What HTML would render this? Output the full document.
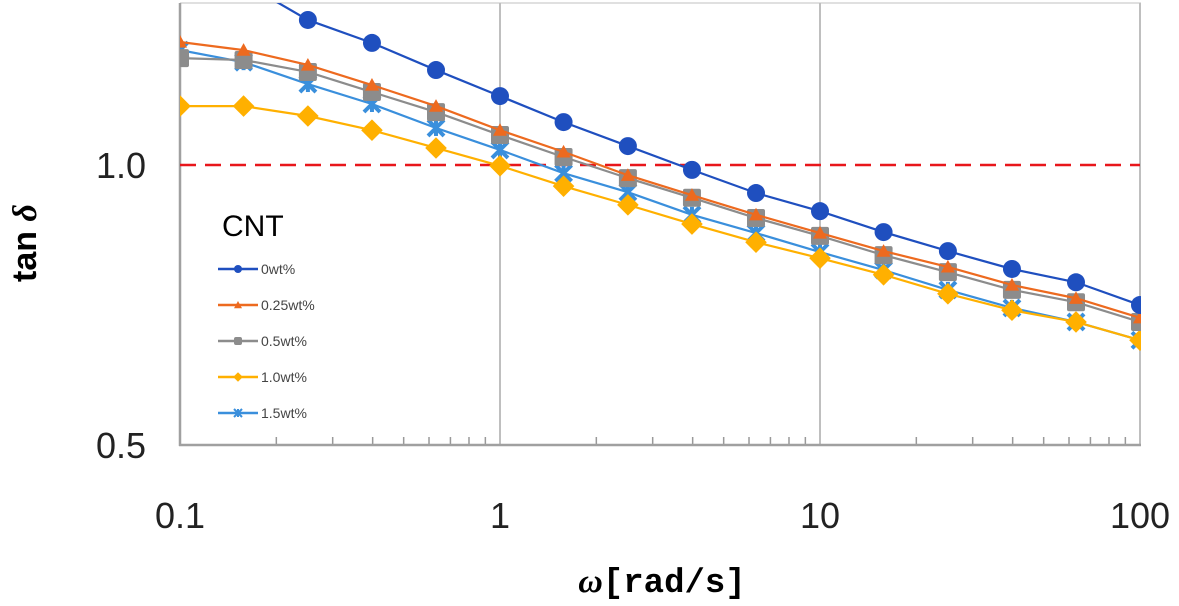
<!DOCTYPE html>
<html><head><meta charset="utf-8"><style>
body{margin:0;background:#fff;}
svg{display:block;font-family:"Liberation Sans",sans-serif;}
</style></head><body>
<svg id="chart" width="1179" height="606">
<defs><clipPath id="pc"><rect x="180" y="3" width="961" height="443"/></clipPath></defs>
<g id="grid"></g>
<g id="series" clip-path="url(#pc)"></g>
<g id="ticks"></g>
<text x="222" y="236" font-size="30">CNT</text>
<g id="legend"></g>
<text x="662" y="592" text-anchor="middle" font-size="34" font-weight="bold" font-family="Liberation Mono, monospace"><tspan font-style="italic" font-family="Liberation Serif, serif">ω</tspan>[rad/s]</text>
<text transform="translate(36,243) rotate(-90)" text-anchor="middle" font-size="34" font-weight="bold">tan <tspan font-style="italic" font-family="Liberation Serif, serif">δ</tspan></text>
</svg>
<script>
const omega=[0.1,0.158,0.251,0.398,0.631,1,1.58,2.51,3.98,6.31,10,15.8,25.1,39.8,63.1,100];
const s0=[1.68,1.57,1.432,1.353,1.265,1.186,1.112,1.048,0.988,0.933,0.892,0.847,0.808,0.773,0.748,0.707];
const s025=[1.356,1.329,1.281,1.219,1.157,1.090,1.033,0.975,0.928,0.884,0.845,0.808,0.777,0.743,0.719,0.685];
const s05=[1.303,1.297,1.259,1.198,1.140,1.077,1.020,0.968,0.922,0.877,0.839,0.800,0.767,0.734,0.712,0.678];
const s10=[1.157,1.157,1.129,1.090,1.043,0.998,0.949,0.906,0.864,0.826,0.794,0.762,0.727,0.698,0.678,0.648];
const s15=[1.329,1.290,1.222,1.163,1.096,1.038,0.980,0.935,0.884,0.845,0.806,0.771,0.734,0.702,0.678,0.648];
const seriesNames=["0wt%","0.25wt%","0.5wt%","1.0wt%","1.5wt%"];
const xTicks=[0.1,1,10,100];
const xTickLabels=["0.1","1","10","100"];
const yTicks=[0.5,1.0];
const yTickLabels=["0.5","1.0"];
const refLine=1.0;

const NS="http://www.w3.org/2000/svg";
const X=v=>180+320*Math.log10(v/0.1);
const Y=v=>165-930*Math.log10(v);
function mk(t,a,p){const e=document.createElementNS(NS,t);for(const k in a)e.setAttribute(k,a[k]);p.appendChild(e);return e;}
const grid=document.getElementById('grid'),ser=document.getElementById('series'),tk=document.getElementById('ticks'),leg=document.getElementById('legend');
let e=mk('line',{x1:180,x2:1141,y1:3,y2:3,stroke:'#e0e0e0','stroke-width':2},grid);

xTicks.forEach((v,i)=>{
 if(i>0){const g=mk('line',{x1:X(v),x2:X(v),y1:3,y2:445,stroke:'#bfbfbf','stroke-width':2},grid);
 }
 const t=mk('text',{x:X(v),y:528,'text-anchor':'middle','font-size':36,fill:'#222'},tk);t.textContent=xTickLabels[i];
 
});
for(let d=0;d<3;d++)for(let m=2;m<=9;m++){const xv=X(0.1*Math.pow(10,d)*m);
 const l=mk('line',{x1:xv,x2:xv,y1:437,y2:445,stroke:'#999','stroke-width':1.5},grid);
 }
e=mk('line',{x1:180,x2:180,y1:3,y2:446,stroke:'#a0a0a0','stroke-width':2.5},grid);

e=mk('line',{x1:179,x2:1141,y1:445,y2:445,stroke:'#a0a0a0','stroke-width':2.5},grid);

yTicks.forEach((v,i)=>{const t=mk('text',{x:146,y:Y(v)+13,'text-anchor':'end','font-size':36,fill:'#222'},tk);t.textContent=yTickLabels[i];
 });
e=mk('line',{x1:180,x2:1140,y1:Y(refLine),y2:Y(refLine),stroke:'#e8161b','stroke-width':2.5,'stroke-dasharray':'16,9'},grid);


const colors=['#1f4fbf','#ed6a1f','#8c8c8c','#ffb000','#3a8fdc'];
const shapes=['circle','triangle','square','diamond','star'];
function marker(shape,x,y,c,s,p){
 if(shape==='circle')return mk('circle',{cx:x,cy:y,r:s,fill:c},p);
 if(shape==='square')return mk('rect',{x:x-s,y:y-s,width:2*s,height:2*s,rx:2,fill:c},p);
 if(shape==='diamond')return mk('polygon',{points:`${x},${y-s*1.2} ${x+s*1.2},${y} ${x},${y+s*1.2} ${x-s*1.2},${y}`,fill:c},p);
 if(shape==='triangle')return mk('polygon',{points:`${x},${y-s} ${x+s},${y+s*0.8} ${x-s},${y+s*0.8}`,fill:c},p);
 const g=mk('g',{stroke:c,'stroke-width':s*0.5},p);
 mk('line',{x1:x-s,y1:y-s,x2:x+s,y2:y+s},g);mk('line',{x1:x-s,y1:y+s,x2:x+s,y2:y-s},g);mk('line',{x1:x,y1:y-s,x2:x,y2:y+s},g);return g;
}
const all=[s0,s025,s05,s10,s15];
const sizes=[9,7,9,9,8];
const order=[4,3,2,1,0];
order.forEach(k=>{
 const d=all[k];const g=mk('g',{},ser);
 
 
 mk('polyline',{points:d.map((v,i)=>X(omega[i])+','+Y(v)).join(' '),fill:'none',stroke:colors[k],'stroke-width':2.2},g);
 d.forEach((v,i)=>{const m=marker(shapes[k],X(omega[i]),Y(v),colors[k],sizes[k],g);
  });
});
seriesNames.forEach((n,k)=>{
 const y=269+36*k;const g=mk('g',{},leg);
 
 mk('line',{x1:218,x2:258,y1:y,y2:y,stroke:colors[k],'stroke-width':2.4},g);
 marker(shapes[k],238,y,colors[k],4,g);
 const t=mk('text',{x:261,y:y+5,'font-size':14,fill:'#444'},g);t.textContent=n;
});
</script>
</body></html>
